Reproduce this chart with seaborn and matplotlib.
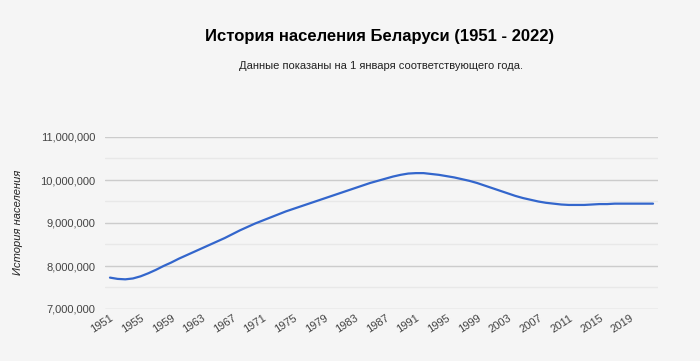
import matplotlib
matplotlib.use("Agg")
import matplotlib.pyplot as plt
import matplotlib.ticker as mticker
import pandas as pd
import seaborn as sns

years = list(range(1951, 2023))
population_mln = [
    7.73, 7.70, 7.69, 7.71, 7.76, 7.83, 7.91, 8.00, 8.08, 8.17,
    8.25, 8.33, 8.41, 8.49, 8.57, 8.65, 8.74, 8.83, 8.91, 8.99,
    9.06, 9.13, 9.20, 9.27, 9.33, 9.39, 9.45, 9.51, 9.57, 9.63,
    9.69, 9.75, 9.81, 9.87, 9.93, 9.98, 10.03, 10.08, 10.12, 10.15,
    10.16, 10.16, 10.14, 10.12, 10.09, 10.06, 10.02, 9.98, 9.93, 9.87,
    9.81, 9.75, 9.69, 9.63, 9.58, 9.54, 9.50, 9.47, 9.45, 9.43,
    9.42, 9.42, 9.42, 9.43, 9.44, 9.44, 9.45, 9.45, 9.45, 9.45,
    9.45, 9.45,
]
tick_years = list(range(1951, 2020, 4))

title = "История населения Беларуси (1951 - 2022)"
subtitle = "Данные показаны на 1 января соответствующего года."
y_label = "История населения"

BG = "#f5f5f5"

sns.set_theme(style="white")
plt.rcParams["font.family"] = ["Liberation Sans", "DejaVu Sans"]

df = pd.DataFrame({"year": years, "population": [v * 1e6 for v in population_mln]})

fig = plt.figure(figsize=(7, 3.61), dpi=100, facecolor=BG)
ax = fig.add_axes([105 / 700, 52 / 361, 553 / 700, 172 / 361])
ax.set_facecolor(BG)

sns.lineplot(data=df, x="year", y="population", ax=ax, color="#3366cc", linewidth=1.6)

ax.set_xlim(1950.35, 2022.65)
ax.set_ylim(7e6, 11e6)
ax.yaxis.set_major_locator(mticker.MultipleLocator(1e6))
ax.yaxis.set_minor_locator(mticker.MultipleLocator(5e5))
ax.yaxis.set_major_formatter(mticker.FuncFormatter(lambda v, p: f"{int(v):,}"))
ax.grid(axis="y", which="major", color="#cccccc", linewidth=1)
ax.grid(axis="y", which="minor", color="#e8e8e8", linewidth=1)
ax.grid(axis="x", visible=False)
ax.set_axisbelow(True)

ax.set_xticks(tick_years)
ax.set_xticklabels([str(y) for y in tick_years], rotation=33, ha="right",
                   rotation_mode="anchor", fontsize=8, color="#444444")
ax.tick_params(axis="y", labelsize=8, labelcolor="#444444", pad=7, length=0)
ax.tick_params(axis="x", length=0, pad=3)
ax.tick_params(axis="y", which="minor", length=0)

for s in ax.spines.values():
    s.set_visible(False)

ax.set_xlabel("")
ax.set_ylabel("")
fig.text(18 / 700, 1 - 222 / 361, y_label, rotation=90, ha="center", va="center",
         fontsize=8, style="italic", color="#222222")

fig.text(380 / 700, 1 - 37 / 361, title, ha="center", va="center",
         fontsize=12, fontweight="bold", color="#000000")
fig.text(381 / 700, 1 - 66 / 361, subtitle, ha="center", va="center",
         fontsize=8, color="#222222")

fig.savefig("out.png", dpi=100, facecolor=BG)
